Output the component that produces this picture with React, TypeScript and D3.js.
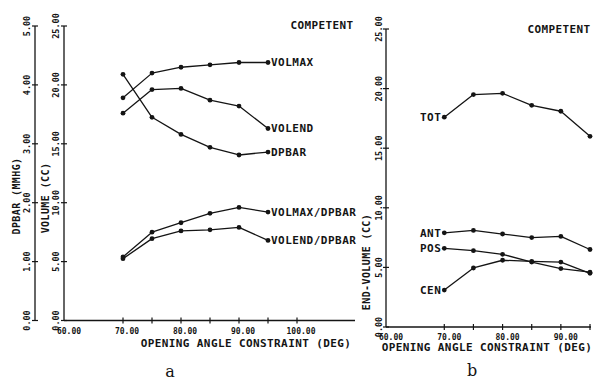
import React from "react";
import * as d3 from "d3";

// opening angle constraint (deg)
const angles = [70, 75, 80, 85, 90, 95];

// panel a
const volMax = [18.9, 21.0, 21.5, 21.7, 21.9, 21.9];
const volEnd = [17.6, 19.6, 19.7, 18.7, 18.2, 16.3];
const dpBar = [4.18, 3.45, 3.16, 2.94, 2.81, 2.86];
const volMaxPerDp = [5.4, 7.5, 8.3, 9.1, 9.6, 9.2];
const volEndPerDp = [5.25, 6.95, 7.6, 7.7, 7.9, 6.8];

// panel b (end-volume)
const tot = [17.6, 19.5, 19.6, 18.6, 18.1, 16.0];
const ant = [7.9, 8.1, 7.8, 7.5, 7.6, 6.5];
const pos = [6.6, 6.4, 6.1, 5.45, 4.9, 4.6];
const cen = [3.1, 4.95, 5.6, 5.5, 5.45, 4.5];

const dpTicks = [0, 1, 2, 3, 4, 5];
const volTicks = [0, 5, 10, 15, 20, 25];
const xTicksA = [70, 75, 80, 85, 90, 95, 100];
const xLabelsA = [60, 70, 80, 90, 100];
const xTicksB = [70, 75, 80, 85, 90, 95];
const xLabelsB = [60, 70, 80, 90];

const FONT = "'DejaVu Sans Mono', monospace";
const INK = "#141414";

const xA = d3.scaleLinear().domain([60, 110]).range([65, 355]);
const yDp = d3.scaleLinear().domain([0, 5]).range([320.5, 26]);
const yVolA = d3.scaleLinear().domain([0, 25]).range([320.5, 26]);

const xB = d3.scaleLinear().domain([60, 95]).range([386, 590]);
const yB = d3.scaleLinear().domain([0, 25]).range([327, 29]);

function VAxis({ scale, x, ticks, labelX }) {
  const [y0, y1] = scale.range();
  return (
    <g>
      <line x1={x} x2={x} y1={y0} y2={y1} stroke={INK} strokeWidth={1.3} />
      {ticks.map((t) => (
        <g key={t}>
          <line x1={x - 3} x2={x + 3} y1={scale(t)} y2={scale(t)} stroke={INK} strokeWidth={1.2} />
          <text
            transform={`translate(${labelX},${scale(t)}) rotate(-90)`}
            textAnchor="middle"
            dy="0.35em"
            fontSize={8.5}
            fontWeight="bold"
            fontFamily={FONT}
            fill={INK}
          >
            {d3.format(".2f")(t)}
          </text>
        </g>
      ))}
    </g>
  );
}

function HAxis({ scale, y, x0, x1, ticks, labels, dx }) {
  return (
    <g>
      <line x1={x0} x2={x1} y1={y} y2={y} stroke={INK} strokeWidth={1.3} />
      {ticks.map((t) => (
        <line key={t} x1={scale(t)} x2={scale(t)} y1={y - 3} y2={y + 3} stroke={INK} strokeWidth={1.2} />
      ))}
      {labels.map((t) => (
        <text
          key={t}
          x={scale(t) + dx}
          y={y + 13}
          textAnchor="middle"
          fontSize={8}
          fontWeight="bold"
          fontFamily={FONT}
          fill={INK}
        >
          {d3.format(".2f")(t)}
        </text>
      ))}
    </g>
  );
}

function Series({ xs, ys, xScale, yScale, label, side }) {
  const pts = xs.map((x, i) => [xScale(x), yScale(ys[i])]);
  const line = d3.line();
  const lp = side === "end" ? pts[pts.length - 1] : pts[0];
  return (
    <g>
      <path d={line(pts)} fill="none" stroke={INK} strokeWidth={1.3} strokeLinejoin="round" />
      {pts.map((p, i) => (
        <circle key={i} cx={p[0]} cy={p[1]} r={2.4} fill={INK} />
      ))}
      <text
        x={side === "end" ? lp[0] + 3 : lp[0] - 3}
        y={lp[1]}
        dy="0.36em"
        textAnchor={side === "end" ? "start" : "end"}
        fontSize={11}
        fontWeight="bold"
        letterSpacing={0.5}
        fontFamily={FONT}
        fill={INK}
      >
        {label}
      </text>
    </g>
  );
}

const bigText = { fontSize: 11, fontWeight: "bold", letterSpacing: 0.4, fontFamily: FONT, fill: INK };

export default function App() {
  return (
    <svg
      width={595}
      height={383}
      style={{ position: "absolute", left: 0, top: 0, background: "#fff" }}
    >
      {/* panel a */}
      <VAxis scale={yDp} x={35} ticks={dpTicks} labelX={27} />
      <VAxis scale={yVolA} x={64} ticks={volTicks} labelX={56} />
      <HAxis scale={xA} y={320.5} x0={64} x1={355} ticks={xTicksA} labels={xLabelsA} dx={4} />
      <text transform="translate(16,196) rotate(-90)" textAnchor="middle" dy="0.35em" {...bigText} fontSize={10}>
        DPBAR (MMHG)
      </text>
      <text transform="translate(45,198) rotate(-90)" textAnchor="middle" dy="0.35em" {...bigText} fontSize={10}>
        VOLUME (CC)
      </text>
      <text x={246} y={347} textAnchor="middle" {...bigText}>
        OPENING ANGLE CONSTRAINT (DEG)
      </text>
      <text x={322} y={29} textAnchor="middle" {...bigText}>
        COMPETENT
      </text>
      <Series xs={angles} ys={volMax} xScale={xA} yScale={yVolA} label="VOLMAX" side="end" />
      <Series xs={angles} ys={volEnd} xScale={xA} yScale={yVolA} label="VOLEND" side="end" />
      <Series xs={angles} ys={dpBar} xScale={xA} yScale={yDp} label="DPBAR" side="end" />
      <Series xs={angles} ys={volMaxPerDp} xScale={xA} yScale={yVolA} label="VOLMAX/DPBAR" side="end" />
      <Series xs={angles} ys={volEndPerDp} xScale={xA} yScale={yVolA} label="VOLEND/DPBAR" side="end" />
      <text x={170} y={377} textAnchor="middle" fontSize={16} fontFamily="'DejaVu Serif', serif" fill={INK}>
        a
      </text>

      {/* panel b */}
      <VAxis scale={yB} x={386} ticks={volTicks} labelX={379} />
      <HAxis scale={xB} y={327} x0={386} x1={591} ticks={xTicksB} labels={xLabelsB} dx={5} />
      <text transform="translate(366,262) rotate(-90)" textAnchor="middle" dy="0.35em" {...bigText} fontSize={10}>
        END-VOLUME (CC)
      </text>
      <text x={487} y={351} textAnchor="middle" {...bigText}>
        OPENING ANGLE CONSTRAINT (DEG)
      </text>
      <text x={559} y={33} textAnchor="middle" {...bigText}>
        COMPETENT
      </text>
      <Series xs={angles} ys={tot} xScale={xB} yScale={yB} label="TOT" side="start" />
      <Series xs={angles} ys={ant} xScale={xB} yScale={yB} label="ANT" side="start" />
      <Series xs={angles} ys={pos} xScale={xB} yScale={yB} label="POS" side="start" />
      <Series xs={angles} ys={cen} xScale={xB} yScale={yB} label="CEN" side="start" />
      <text x={472} y={376} textAnchor="middle" fontSize={16} fontFamily="'DejaVu Serif', serif" fill={INK}>
        b
      </text>
    </svg>
  );
}
